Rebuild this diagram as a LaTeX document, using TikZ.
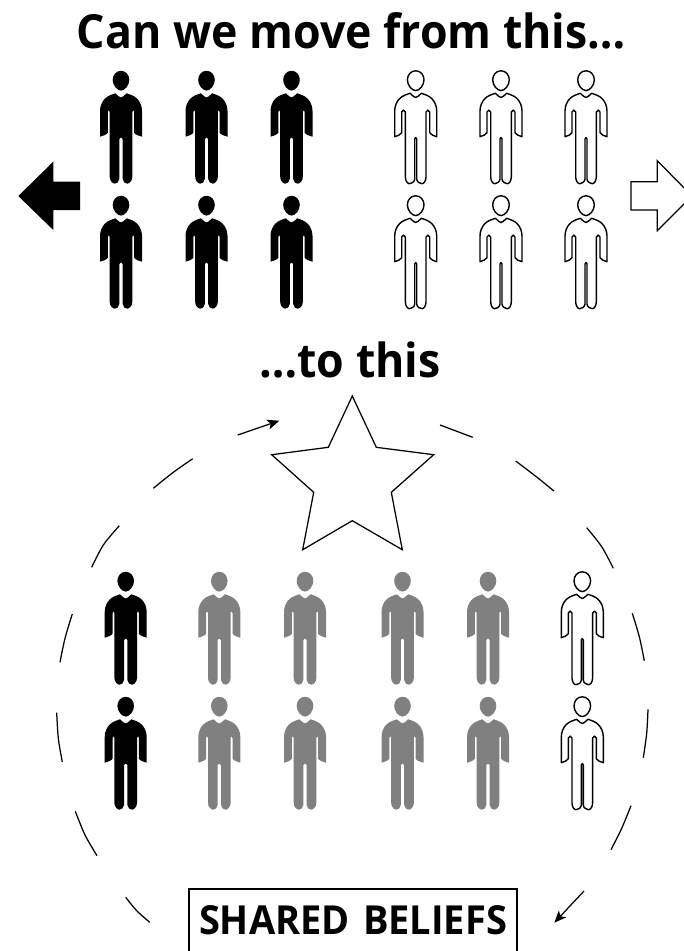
\documentclass[tikz,border=0pt]{standalone}
\usepackage{fontspec}
\setmainfont{Open Sans}[FakeStretch=0.95]
\usetikzlibrary{arrows.meta}
\definecolor{figgrey}{HTML}{808080}
\newcommand{\figshape}[3]{%
 (0,10.8) .. controls (5,10.8) and (8.3,15) .. (8.3,20) .. controls (8.3,25) and (4,30.6) .. (0,30.6)
 .. controls (-4,30.6) and (-8.3,25) .. (-8.3,20) .. controls (-8.3,15) and (-5,10.8) .. (0,10.8) -- cycle
 (-5.7,33.3) .. controls (-3,35.5) and (-1.5,37.5) .. (0,37.5) .. controls (1.5,37.5) and (3,35.5) .. (5.7,33.3)
 .. controls (9,34.5) and (13,35.5) .. (16,38.5) .. controls (19,41.5) and (21,46) .. (21,51)
 -- (21,76.7) .. controls (18,76) and (#1+1,74.5) .. (#1,72.7)
 -- (#1,52) .. controls (#1,49.5) and (#2,49.5) .. (#2,52)
 -- (#2,117) .. controls (#2,121) and (8,123.7) .. (6.3,123.7) .. controls (4.5,123.7) and (#3,122) .. (#3,119)
 -- (#3,79) .. controls (#3,77) and (-#3,77) .. (-#3,79)
 -- (-#3,119) .. controls (-#3,122) and (-4.5,123.7) .. (-6.3,123.7) .. controls (-8,123.7) and (-#2,121) .. (-#2,117)
 -- (-#2,52) .. controls (-#2,49.5) and (-#1,49.5) .. (-#1,52)
 -- (-#1,72.7) .. controls (-#1-1,74.5) and (-18,76) .. (-21,76.7)
 -- (-21,51) .. controls (-21,46) and (-19,41.5) .. (-16,38.5) .. controls (-13,35.5) and (-9,34.5) .. (-5.7,33.3) -- cycle}
\newcommand{\figblack}[2]{\fill[figb,shift={(#1,#2)}] \figshape{13.2}{11.3}{1.7};}
\newcommand{\figgray}[2]{\fill[figg,shift={(#1,#2)}] \figshape{13.2}{11.3}{1.7};}
\newcommand{\figopen}[2]{\draw[figw,shift={(#1,#2)}] \figshape{14}{10.3}{1};}
\tikzset{
 figb/.style={fill=black},
 figg/.style={fill=figgrey},
 figw/.style={draw=black,line width=1.4pt,fill=white,line join=round},
 outline/.style={draw=black,line width=1.25pt,line join=miter},
 ring/.style={draw=black,line width=1.25pt},
 ringarrow/.style={ring,-{Stealth[length=12pt,width=10pt,inset=3pt]}},
 title/.style={inner sep=0pt,anchor=base,font=\bfseries\fontsize{47}{52}\selectfont},
}
\begin{document}
\begin{tikzpicture}[x=1pt,y=-1pt]
\useasboundingbox (0,0) rectangle (684,951);
\clip (0,0) rectangle (684,951);
\fill[white] (0,0) rectangle (684,951);
\node[title] (heading) at (351.5,48) {Can we move from this…};
\node[title] (subheading) at (350,377) {…to this};
\foreach \x in {121,206.5,291.5}{\figblack{\x}{60}\figblack{\x}{185}}
\foreach \x in {415.7,501,586}{\figopen{\x}{60}\figopen{\x}{185}}
\foreach \y in {561,686}{
 \figblack{125.7}{\y}
 \foreach \x in {219.3,305,402.5,488}{\figgray{\x}{\y}}
 \figopen{582.3}{\y}
}
\fill (18.3,196) -- (53.3,161.7) -- (53.3,181.7) -- (80,181.7) -- (80,210) -- (53.3,210) -- (53.3,230) -- cycle;
\draw[outline] (692,196) -- (657.3,160.7) -- (657.3,181.7) -- (631,181.7) -- (631,210) -- (657.3,210) -- (657.3,230.7) -- cycle;
\draw[outline] (352.3,396) -- (376.3,447.3) -- (433.7,454.7) -- (391.3,492.3) -- (402.3,549.7) -- (352.3,520.7) -- (302.7,549.7) -- (313.7,492.3) -- (271.7,454.7) -- (328.3,447.3) -- cycle;
\coordinate (a1s) at (237.7,435); \coordinate (a1e) at (279.3,420.7);
\coordinate (a2s) at (584,891); \coordinate (a2e) at (554.3,922.7);
\draw[ringarrow] (a1s) -- (a1e);
\draw[ringarrow] (a2s) -- (a2e);
\foreach \p/\q/\r in {
 {153.3,488.3}/{173.3,472.3}/{192.7,458.7},
 {440,425}/{456,431}/{472.7,437.3},
 {515.7,461}/{535,475.7}/{554,491},
 {586.7,527.7}/{601.7,546.7}/{613.3,568.3},
 {632.3,613.3}/{639.3,636.7}/{644.3,660.7},
 {648,709.3}/{646.7,733.3}/{643.3,757.7},
 {631,805.7}/{621.7,828.3}/{611,849.7},
 {125.7,897.3}/{136.7,910.7}/{149.7,922.3},
 {75.3,811.3}/{85,835}/{97,855.7},
 {56.7,712.7}/{58.3,738.3}/{62.3,762},
 {72.3,614}/{65,638.3}/{60,662.3},
 {119.3,525.7}/{103.3,545}/{91.7,567.3}}{
 \draw[ring] plot[smooth] coordinates {(\p) (\q) (\r)};
}
\node[draw=black,line width=1.25pt,inner sep=0pt,anchor=base,minimum width=328pt,text width=328pt,align=center,text height=45pt,text depth=30pt,font=\bfseries\fontsize{40}{44}\selectfont] (beliefs) at (353,934) {SHARED BELIEFS};
\end{tikzpicture}
\end{document}
